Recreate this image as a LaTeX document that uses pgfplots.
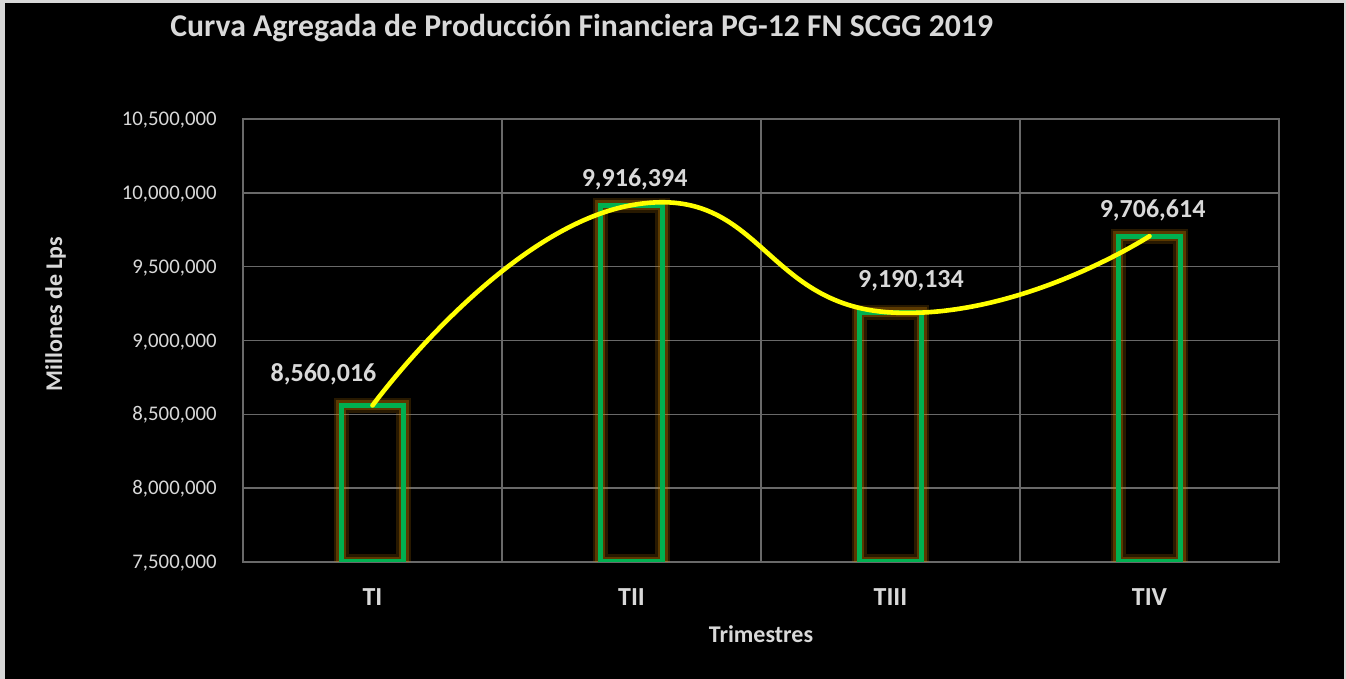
\documentclass[border=0pt]{standalone}
\usepackage{pgfplots}
\pgfplotsset{compat=1.18}
\usepackage{fontspec}
\setmainfont{Carlito}
\definecolor{txt}{RGB}{217,217,217}
\definecolor{gridc}{RGB}{105,105,105}
\definecolor{barg}{RGB}{0,176,80}
\definecolor{glow}{RGB}{200,125,0}
\definecolor{yel}{RGB}{255,255,0}
\definecolor{frame}{RGB}{215,215,215}
\newcommand{\fs}[1]{\fontsize{#1}{1.2\dimexpr#1\relax}\selectfont}
\begin{document}
\begin{tikzpicture}
\useasboundingbox (0,0) rectangle (673bp,339.5bp);
\fill[frame] (0,0) rectangle (673bp,339.5bp);
\fill[black] (2.5bp,0) rectangle (672bp,338bp);
\node[anchor=base west, text=txt, font=\fs{15.85bp}\bfseries, inner sep=0pt] at (85bp,321bp) {Curva Agregada de Producción Financiera PG-12 FN SCGG 2019};
\begin{axis}[
  at={(121.5bp,58.5bp)}, anchor=south west,
  scale only axis, width=518bp, height=221.5bp,
  xmin=-0.5, xmax=3.5, ymin=7500000, ymax=10500000,
  xtick={0,1,2,3}, xticklabels={TI,TII,TIII,TIV},
  minor xtick={-0.5,0.5,1.5,2.5,3.5},
  xminorgrids=true, xmajorgrids=false, ymajorgrids=true,
  ytick={7500000,8000000,8500000,9000000,9500000,10000000,10500000},
  scaled y ticks=false,
  major tick length=0pt, minor tick length=0pt,
  axis line style={gridc, line width=0.8bp},
  grid style={gridc, line width=0.8bp},
  minor grid style={gridc, line width=0.8bp},
  yticklabel style={/pgf/number format/fixed, /pgf/number format/precision=0,
     /pgf/number format/1000 sep={,}, /pgf/number format/assume math mode=true,
     anchor=base east, inner sep=0pt, xshift=-13bp, yshift=-3.3bp,
     font=\fs{10.4bp}, text=txt},
  xticklabel style={anchor=base, inner sep=0pt, yshift=-21.5bp, font=\fs{13bp}\bfseries, text=txt},
  xlabel={Trimestres},
  xlabel style={at={(axis description cs:0.5,-0.1828)}, anchor=base, inner sep=0pt, font=\fs{12bp}\bfseries, text=txt},
  ylabel={Millones de Lps},
  ylabel style={at={(axis description cs:-0.1747,0.5598)}, anchor=base, inner sep=0pt, font=\fs{12bp}\bfseries, text=txt},
  line join=miter,
]
% bars: soft glow layers then green outline
\addplot[glow, opacity=0.2, line width=7.5bp, forget plot] coordinates {(-0.12,7500000) (-0.12,8560016) (0.12,8560016) (0.12,7500000)} -- cycle;
\addplot[glow, opacity=0.2, line width=7.5bp, forget plot] coordinates {(0.88,7500000) (0.88,9916394) (1.12,9916394) (1.12,7500000)} -- cycle;
\addplot[glow, opacity=0.2, line width=7.5bp, forget plot] coordinates {(1.88,7500000) (1.88,9190134) (2.12,9190134) (2.12,7500000)} -- cycle;
\addplot[glow, opacity=0.2, line width=7.5bp, forget plot] coordinates {(2.88,7500000) (2.88,9706614) (3.12,9706614) (3.12,7500000)} -- cycle;
\addplot[glow, opacity=0.32, line width=5bp, forget plot] coordinates {(-0.12,7500000) (-0.12,8560016) (0.12,8560016) (0.12,7500000)} -- cycle;
\addplot[glow, opacity=0.32, line width=5bp, forget plot] coordinates {(0.88,7500000) (0.88,9916394) (1.12,9916394) (1.12,7500000)} -- cycle;
\addplot[glow, opacity=0.32, line width=5bp, forget plot] coordinates {(1.88,7500000) (1.88,9190134) (2.12,9190134) (2.12,7500000)} -- cycle;
\addplot[glow, opacity=0.32, line width=5bp, forget plot] coordinates {(2.88,7500000) (2.88,9706614) (3.12,9706614) (3.12,7500000)} -- cycle;
\addplot[barg, line width=2.5bp, forget plot] coordinates {(-0.12,7500000) (-0.12,8560016) (0.12,8560016) (0.12,7500000)} -- cycle;
\addplot[barg, line width=2.5bp, forget plot] coordinates {(0.88,7500000) (0.88,9916394) (1.12,9916394) (1.12,7500000)} -- cycle;
\addplot[barg, line width=2.5bp, forget plot] coordinates {(1.88,7500000) (1.88,9190134) (2.12,9190134) (2.12,7500000)} -- cycle;
\addplot[barg, line width=2.5bp, forget plot] coordinates {(2.88,7500000) (2.88,9706614) (3.12,9706614) (3.12,7500000)} -- cycle;
% smooth line
\addplot[yel, line width=2.3bp, smooth, tension=0.9, line cap=round] coordinates {(0,8560016) (1,9916394) (2,9190134) (3,9706614)};
% data labels
\addplot[only marks, mark=*, mark size=0pt, mark options={draw=none,fill=none},
  point meta=explicit symbolic, nodes near coords,
  nodes near coords style={anchor=base, inner sep=0pt, font=\fs{13bp}\bfseries, text=txt}]
  table[x=x, y=y, meta=label] {
x y label
-0.189 8725700 8,560,016
1.012 10046000 9,916,394
2.079 9362000 9,190,134
3.012 9836000 9,706,614
};
\end{axis}
\end{tikzpicture}
\end{document}
